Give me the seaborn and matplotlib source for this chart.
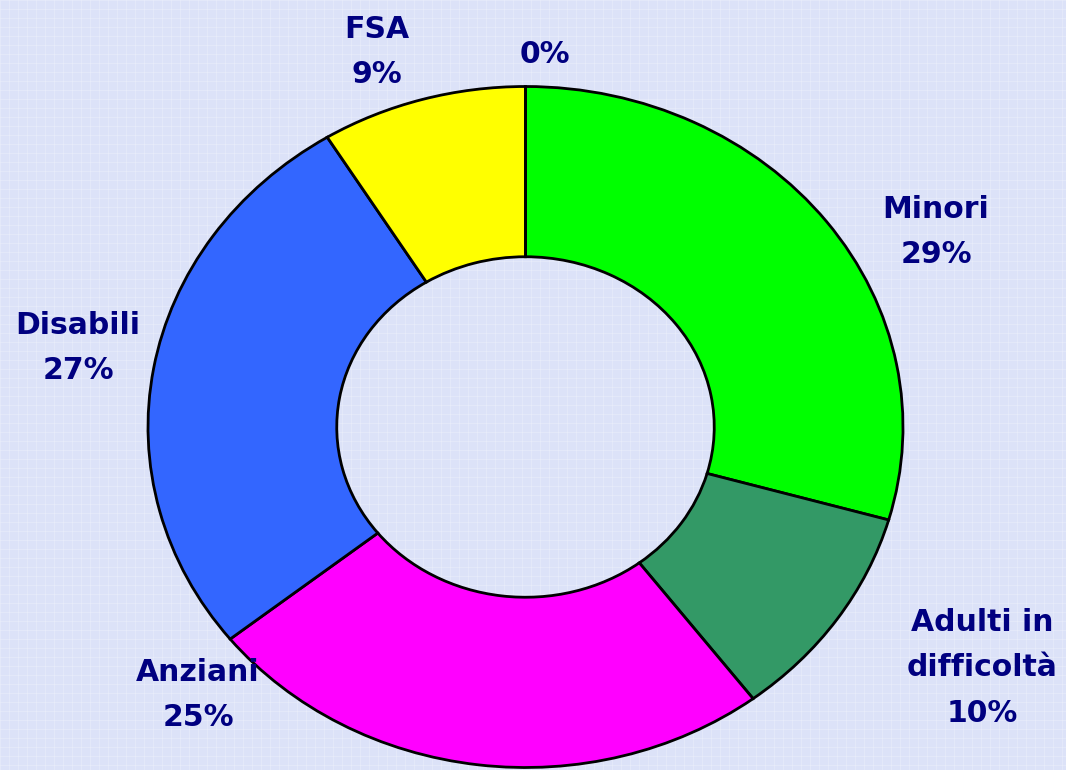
import numpy as np
import matplotlib
matplotlib.use("Agg")
import matplotlib.pyplot as plt
import seaborn as sns

# ---- data ----
categories = ["Minori", "Adulti in\ndifficoltà", "Anziani", "Disabili", "FSA", ""]
values = [29.4, 10.3, 24.6, 26.9, 8.8, 0.0]
colors = ["#00FF00", "#339966", "#FF00FF", "#3366FF", "#FFFF00", "#FFFFFF"]

sns.set_theme(style="white")
plt.rcParams['font.family'] = ['DejaVu Sans']

W, H = 1066, 770
fig = plt.figure(figsize=(W / 100, H / 100), dpi=100)
bg = "#DCE2F8"
fig.patch.set_facecolor(bg)

# background texture axes (faint grid)
bax = fig.add_axes([0, 0, 1, 1], zorder=0)
bax.set_xlim(0, W)
bax.set_ylim(H, 0)
bax.set_facecolor(bg)
for gx in np.arange(0, W, 9):
    bax.axvline(gx, color="white", lw=0.5, alpha=0.3)
for gy in np.arange(0, H, 9):
    bax.axhline(gy, color="white", lw=0.5, alpha=0.3)
bax.axis("off")

ax = fig.add_axes([0, 0, 1, 1], zorder=1)
ax.patch.set_alpha(0)

cx, cy, rx, ry = 525.5, 427.0, 377.5, 340.5

wedges, _ = ax.pie(values, colors=colors, startangle=90, counterclock=False,
                   radius=1.0,
                   wedgeprops=dict(width=0.5, edgecolor="black", linewidth=2.0))
ax.set_aspect("auto")
ax.set_xlim((0 - cx) / rx, (W - cx) / rx)
ax.set_ylim((cy - H) / ry, cy / ry)
ax.axis("off")


def px(x, y):
    return (x - cx) / rx, (cy - y) / ry


pct = [f"{round(v)}%" for v in values]
label_pos = [(936, 232), (982, 668), (198, 695), (78, 348), (377, 52), (545, 55)]
for name, p, (lx, ly) in zip(categories, pct, label_pos):
    txt = f"{name}\n{p}" if name else p
    x, y = px(lx, ly)
    ax.text(x, y, txt, ha="center", va="center", color="#000080",
            fontsize=21.5, fontweight="bold", linespacing=1.72, zorder=5)

fig.savefig("out.png", dpi=100, facecolor=bg)
